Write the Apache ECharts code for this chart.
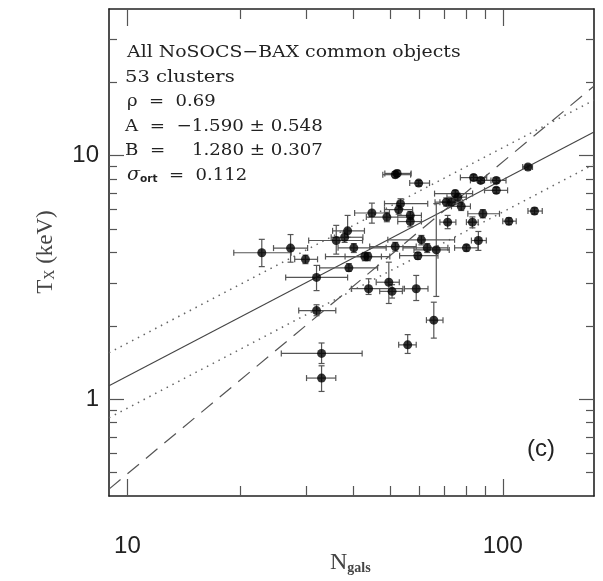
<!DOCTYPE html>
<html><head><meta charset="utf-8">
<script src="https://cdn.jsdelivr.net/npm/echarts@6/dist/echarts.min.js"></script>
<style>html,body{margin:0;padding:0;background:#fff}#c{width:603px;height:581px}</style>
</head><body><div id="c"></div>
<script>
// ---- data ----
const nGals = [51.7,52.3,59.7,53.4,52.8,44.8,49.1,56.7,56.7,70.7,72.9,75.9,77.5,74.7,71.3,38.6,37.9,36.0,40.1,22.8,27.2,29.8,42.9,43.7,51.7,60.7,62.9,66.5,59.4,38.9,31.9,43.9,49.7,50.7,58.8,31.9,65.5,55.8,32.9,32.9,116.7,83.6,87.3,96.1,96.1,88.5,83.0,103.8,121.5,80.0,86.1];
const tX    = [8.35,8.45,7.71,6.35,6.0,5.81,5.59,5.68,5.36,6.44,6.44,6.75,6.19,6.98,5.33,4.91,4.62,4.48,4.18,3.99,4.17,3.75,3.85,3.85,4.23,4.51,4.18,4.10,3.88,3.46,3.16,2.84,3.02,2.77,2.84,2.31,2.11,1.67,1.54,1.22,8.98,8.12,7.91,7.91,7.20,5.77,5.33,5.38,5.92,4.18,4.48];
const nLow  = [47.9,48.5,56.5,48.4,48.4,40.3,43.3,52.5,52.5,66,68,71,73,65.8,68,35.2,34.9,30.4,36.4,19.2,24.5,27.9,33.7,38,44.2,49.4,54.2,58,53.1,32.5,26.4,39.5,46,47,54.7,28.6,62.6,52.8,25.7,30.0,113,77.1,82,89.4,89.4,80.7,80,100,116.7,74.4,82.5];
const nHigh = [56.8,57,63.8,63.1,57.5,49.9,57.6,60.7,60.7,75,78,80,82,83.1,75,42.8,42.4,42.3,48.9,27.3,30.2,32.1,47.5,50,58.8,74.4,71.4,72,67.2,46.4,38.6,54.2,53,54,63.2,35.9,69.3,58.8,42.2,35.9,120,90.6,93,102,103,98,86,108.6,127.4,85.9,90.4];
const tLow  = [8.1,8.2,7.5,6.05,5.75,5.28,5.35,5.45,5.1,6.2,6.2,6.5,5.95,6.75,5.01,4.62,4.4,3.94,4.0,3.50,3.65,3.6,3.7,3.7,4.05,4.3,4.0,2.64,3.75,3.35,2.79,2.69,2.47,2.6,2.54,2.20,1.78,1.54,1.40,1.075,8.8,7.9,7.7,7.7,7.0,5.55,5.05,5.2,5.75,4.05,4.08];
const tHigh = [8.6,8.7,7.9,6.65,6.25,6.38,5.85,5.9,5.6,6.7,6.7,7.0,6.45,7.2,5.68,5.68,4.85,5.17,4.35,4.53,4.74,3.9,4.0,4.0,4.4,4.7,4.35,6.35,4.0,3.6,3.54,3.12,3.65,2.95,3.22,2.44,2.50,1.84,1.70,1.37,9.15,8.35,8.1,8.1,7.4,6.0,5.6,5.55,6.1,4.3,4.88];

// fitted relations (end points)
const lineN       = [8.93, 175];
const solidT      = [1.135, 12.5];
const upperDotT   = [1.55, 16.9];
const lowerDotT   = [0.838, 9.21];
const dashedT     = [0.427, 19.3];

// axes
const xRange = [8.93, 175];
const yRange = [0.4, 40];
const xMajor = [10, 100];
const xMinor = [20,30,40,50,60,70,80,90];
const yMajor = [1, 10];
const yMinor = [0.5,0.6,0.7,0.8,0.9,2,3,4,5,6,7,8,9,20,30];
const xTickLabels = ['10','100'];
const yTickLabels = ['1','10'];

const textLines = ['All NoSOCS\u2212BAX common objects','53 clusters','\u03c1  =  0.69','A  =  \u22121.590 \u00b1 0.548','B  =  \u2007\u20091.280 \u00b1 0.307'];
const sigmaLine = '0.112';

const chart = echarts.init(document.getElementById('c'), null, {renderer:'canvas'});
const gridRect = {left:109, top:9, width:485, height:487};

function xAx(grid, pos, ticks, len, showLine, labels){
  return {type:'log', logBase:10, gridIndex:grid, position:pos, min:xRange[0], max:xRange[1],
    axisLine:{show:showLine, lineStyle:{color:'#222', width:1.6}},
    axisTick:{show:true, inside:true, length:len, customValues:ticks, lineStyle:{color:'#555', width:1.2}},
    axisLabel:{show:!!labels, customValues:labels?ticks:undefined, margin:38, fontFamily:'Liberation Sans', fontSize:24, color:'#222',
      formatter:v=>{const i=xMajor.indexOf(Math.round(v)); return i>=0?xTickLabels[i]:'';}},
    splitLine:{show:false}};
}
function yAx(grid, pos, ticks, len, showLine, labels){
  return {type:'log', logBase:10, gridIndex:grid, position:pos, min:yRange[0], max:yRange[1],
    axisLine:{show:showLine, lineStyle:{color:'#222', width:1.6}},
    axisTick:{show:true, inside:true, length:len, customValues:ticks, lineStyle:{color:'#555', width:1.2}},
    axisLabel:{show:!!labels, customValues:labels?ticks:undefined, margin:10, fontFamily:'Liberation Sans', fontSize:24, color:'#222',
      formatter:v=>{const i=yMajor.indexOf(Math.round(v)); return i>=0?yTickLabels[i]:'';}},
    splitLine:{show:false}};
}

const errData = nGals.map((n,i)=>[n,tX[i],nLow[i],nHigh[i],tLow[i],tHigh[i]]);
const capW = 3;
const tf = '17px "DejaVu Serif"';
const lineX = [127,125,127,125,125];
const lineScale = [1.11,1.15,1.06,1.07,1.07];

const option = {
  animation:false,
  grid:[Object.assign({}, gridRect), Object.assign({}, gridRect)],
  xAxis:[xAx(0,'bottom',xMajor,17,true,true), xAx(0,'top',xMajor,17,true,false),
         xAx(1,'bottom',xMinor,10,false,false), xAx(1,'top',xMinor,10,false,false)],
  yAxis:[yAx(0,'left',yMajor,15,true,true), yAx(0,'right',yMajor,15,true,false),
         yAx(1,'left',yMinor,8,false,false), yAx(1,'right',yMinor,8,false,false)],
  series:[
    {type:'line', xAxisIndex:0, yAxisIndex:0, data:lineN.map((n,i)=>[n,solidT[i]]), showSymbol:false, lineStyle:{color:'#444', width:1.1}, z:2},
    {type:'line', xAxisIndex:0, yAxisIndex:0, data:lineN.map((n,i)=>[n,upperDotT[i]]), showSymbol:false, lineStyle:{color:'#666', width:1.5, type:[1.5,5]}, z:2},
    {type:'line', xAxisIndex:0, yAxisIndex:0, data:lineN.map((n,i)=>[n,lowerDotT[i]]), showSymbol:false, lineStyle:{color:'#666', width:1.5, type:[1.5,5]}, z:2},
    {type:'line', xAxisIndex:0, yAxisIndex:0, data:lineN.map((n,i)=>[n,dashedT[i]]), showSymbol:false, lineStyle:{color:'#555', width:1.2, type:[15,9]}, z:2},
    {type:'custom', xAxisIndex:0, yAxisIndex:0, data:errData, z:3,
      renderItem:(params, api)=>{
        const c = api.coord([api.value(0), api.value(1)]);
        const xl = api.coord([api.value(2), api.value(1)]);
        const xh = api.coord([api.value(3), api.value(1)]);
        const yl = api.coord([api.value(0), api.value(4)]);
        const yh = api.coord([api.value(0), api.value(5)]);
        const st = {stroke:'#555', lineWidth:1.2};
        return {type:'group', children:[
          {type:'line', shape:{x1:xl[0],y1:c[1],x2:xh[0],y2:c[1]}, style:st},
          {type:'line', shape:{x1:xl[0],y1:c[1]-capW,x2:xl[0],y2:c[1]+capW}, style:st},
          {type:'line', shape:{x1:xh[0],y1:c[1]-capW,x2:xh[0],y2:c[1]+capW}, style:st},
          {type:'line', shape:{x1:c[0],y1:yl[1],x2:c[0],y2:yh[1]}, style:st},
          {type:'line', shape:{x1:c[0]-capW,y1:yl[1],x2:c[0]+capW,y2:yl[1]}, style:st},
          {type:'line', shape:{x1:c[0]-capW,y1:yh[1],x2:c[0]+capW,y2:yh[1]}, style:st}
        ]};
      }},
    {type:'scatter', xAxisIndex:0, yAxisIndex:0, data:nGals.map((n,i)=>[n,tX[i]]), symbol:'circle', symbolSize:9, itemStyle:{color:'#000'}, z:4}
  ],
  graphic:[
    ...textLines.map((t,i)=>({type:'text', x:lineX[i], y:44+i*24.6, scaleX:lineScale[i], style:{text:t, font:tf, fill:'#222'}})),
    {type:'text', x:127, y:166, scaleX:1.06, style:{text:'{s|\u03c3}{b|ort}{n|  =  '+sigmaLine+'}', rich:{
      s:{font:'italic 18px "DejaVu Serif"', fill:'#222', verticalAlign:'bottom'},
      b:{font:'bold 10px "DejaVu Sans"', fill:'#222', padding:[6,0,0,0], verticalAlign:'bottom'},
      n:{font:tf, fill:'#222', verticalAlign:'bottom'}}}},
    {type:'text', left:527, top:437, style:{text:'(c)', font:'24px "Liberation Sans"', fill:'#222'}},
    {type:'text', x:46, y:252, rotation:Math.PI/2, style:{text:'{a|T}{b|X}{a| (keV)}', align:'center', verticalAlign:'middle', rich:{
      a:{font:'23px "Liberation Serif"', fill:'#444'}, b:{font:'14px "Liberation Serif"', fill:'#444', padding:[9,0,0,0]}}}},
    {type:'text', left:330, top:551, style:{text:'{a|N}{b|gals}', rich:{
      a:{font:'24px "Liberation Serif"', fill:'#444'}, b:{font:'bold 14px "Liberation Serif"', fill:'#444', padding:[11,0,0,0]}}}}
  ]
};
chart.setOption(option);
</script></body></html>
